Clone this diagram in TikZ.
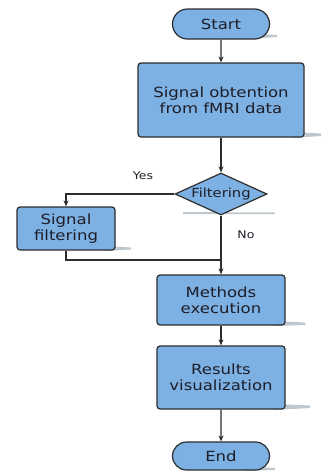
\documentclass[tikz,border=0pt]{standalone}
\usepackage{fontspec}
\setmainfont{DejaVu Sans}[FakeStretch=1.18]
\usetikzlibrary{shapes.geometric,shapes.misc,arrows.meta}
\definecolor{nodefill}{RGB}{125,176,227}
\definecolor{edgecol}{RGB}{45,45,45}
\definecolor{txtcol}{RGB}{30,30,40}
\definecolor{shadecol}{RGB}{190,200,204}
\tikzset{
  base/.style={draw=edgecol, line width=1.2pt, fill=nodefill, text=txtcol, inner sep=0pt},
  term/.style={base, rounded rectangle, minimum width=97pt, minimum height=30pt, font=\fontsize{14pt}{16pt}\selectfont},
  proc/.style={base, rectangle, rounded corners=3pt, align=center, font=\fontsize{14pt}{16pt}\selectfont},
  dec/.style={base, diamond, aspect=2.2, minimum width=92pt, minimum height=42pt, font=\fontsize{12.5pt}{14pt}\selectfont},
  lbl/.style={text=txtcol, font=\fontsize{10.6pt}{12pt}\selectfont, inner sep=0pt},
  conn/.style={draw=edgecol, line width=1.2pt},
  arr/.style={conn, -{Stealth[length=6pt,width=5pt]}},
  shade/.style={fill=shadecol, draw=none}
}
\begin{document}
\begin{tikzpicture}[x=1pt,y=-1pt]
\useasboundingbox (0,0) rectangle (321,472);
% shadows
\fill[shade] (245,33) -- (277,35) -- (277,37) -- (245,39) -- cycle;
\fill[shade] (292,132) -- (321,133.5) -- (321,136) -- (292,138) -- cycle;
\fill[shade] (183,212) -- (275,212.5) -- (275,214) -- (183,214) -- cycle;
\fill[shade] (105,246) -- (131,247.5) -- (131,249.5) -- (105,251) -- cycle;
\fill[shade] (274,321) -- (305,322.5) -- (305,325) -- (274,326) -- cycle;
\fill[shade] (274,404) -- (310,405.5) -- (310,408) -- (274,410) -- cycle;
\fill[shade] (245,466) -- (275,468) -- (275,470) -- (245,471) -- cycle;
% nodes
\node[term] (start) at (221,24) {Start};
\node[proc, minimum width=166pt, minimum height=74pt] (obt) at (221,100) {Signal obtention\\from fMRI data};
\node[dec] (filt) at (221,194) {Filtering};
\node[proc, minimum width=98pt, minimum height=43pt] (sf) at (66,228.5) {Signal\\filtering};
\node[proc, minimum width=128pt, minimum height=50pt] (meth) at (221,300) {Methods\\execution};
\node[proc, minimum width=128pt, minimum height=63pt] (res) at (221,377.5) {Results\\visualization};
\node[term, minimum height=28pt] (end) at (221,456) {End};
\node[lbl] (yes) at (143,176) {Yes};
\node[lbl] (no) at (246,235) {No};
\coordinate (join) at (221,260);
% connectors
\draw[arr] (start) -- (obt);
\draw[arr] (obt) -- (filt);
\draw[arr] (filt.west) -| (sf.north);
\draw[conn] (sf.south) |- (join);
\draw[arr] (filt.south) -- (meth.north);
\draw[arr] (meth) -- (res);
\draw[arr] (res) -- (end);
\end{tikzpicture}
\end{document}
